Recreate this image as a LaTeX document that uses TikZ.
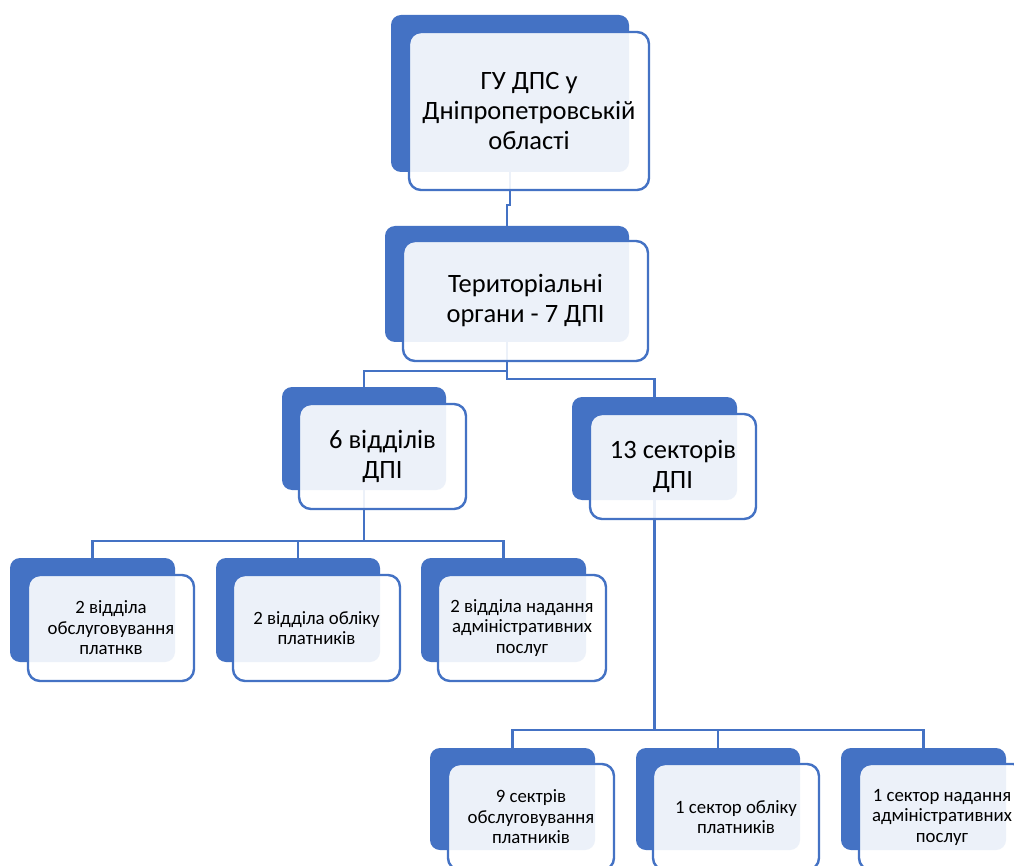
\documentclass[tikz,border=0pt]{standalone}
\usepackage{fontspec}
\setmainfont{Carlito}
\definecolor{accent}{HTML}{4472C4}
\tikzset{
  darkbox/.style={rectangle, rounded corners=10pt, fill=accent, inner sep=0pt},
  frontbox/.style={rectangle, rounded corners=12pt, draw=accent, line width=2.4pt, fill=white, fill opacity=0.9, text opacity=1, inner sep=0pt, align=center, text=black},
  bigtext/.style={font=\fontsize{26.5}{30}\selectfont},
  smalltext/.style={font=\fontsize{18.8}{20.5}\selectfont},
  conn/.style={draw=accent, line width=2.4pt}
}
\begin{document}
\begin{tikzpicture}[x=1pt,y=-1pt]
\useasboundingbox (0,0) rectangle (1014,866);
\fill[white] (0,0) rectangle (1014,866);
\clip (0,0) rectangle (1014,866);
% back (dark) boxes
\node[darkbox, minimum width=238pt, minimum height=157pt] (d1) at (510,93.5) {};
\node[darkbox, minimum width=244pt, minimum height=116pt] (d2) at (507,284) {};
\node[darkbox, minimum width=164pt, minimum height=103pt] (d3) at (364,438.5) {};
\node[darkbox, minimum width=165pt, minimum height=103pt] (d4) at (654.5,448.5) {};
\node[darkbox, minimum width=165pt, minimum height=104pt] (d5) at (92.5,610) {};
\node[darkbox, minimum width=164pt, minimum height=104pt] (d6) at (298,610) {};
\node[darkbox, minimum width=165pt, minimum height=104pt] (d7) at (503.5,610) {};
\node[darkbox, minimum width=165pt, minimum height=102pt] (d8) at (512.5,799) {};
\node[darkbox, minimum width=164pt, minimum height=102pt] (d9) at (718,799) {};
\node[darkbox, minimum width=165pt, minimum height=102pt] (d10) at (923.5,799) {};
% connectors
\draw[conn] (d1.south) -- ++(0,33) -| (d2.north);
\draw[conn] (d2.south) -- ++(0,29) -| (d3.north);
\draw[conn] (d2.south) -- ++(0,37) -| (d4.north);
\draw[conn] (d3.south) -- ++(0,51) coordinate (j3);
\draw[conn] (j3) -| (d5.north);
\draw[conn] (j3) -| (d6.north);
\draw[conn] (j3) -| (d7.north);
\draw[conn] (d4.south) -- ++(0,230) coordinate (j4);
\draw[conn] (j4) -| (d8.north);
\draw[conn] (j4) -| (d9.north);
\draw[conn] (j4) -| (d10.north);
% front boxes with text
\node[frontbox, bigtext, minimum width=240pt, minimum height=158pt] (f1) at (529,111) {ГУ ДПС у\\Дніпропетровській\\області};
\node[frontbox, bigtext, minimum width=245pt, minimum height=120pt] (f2) at (525.5,301) {Територіальні\\органи - 7 ДПІ};
\node[frontbox, bigtext, minimum width=167pt, minimum height=105pt] (f3) at (382.5,456.5) {6 відділів\\ДПІ};
\node[frontbox, bigtext, minimum width=166pt, minimum height=105pt] (f4) at (673,466.5) {13 секторів\\ДПІ};
\node[frontbox, smalltext, minimum width=166pt, minimum height=106pt] (f5) at (111,628) {2 відділа\\обслуговування\\платнкв};
\node[frontbox, smalltext, minimum width=167pt, minimum height=106pt] (f6) at (316.5,628) {2 відділа обліку\\платників};
\node[frontbox, smalltext, minimum width=168pt, minimum height=106pt] (f7) at (522,628) {2 відділа надання\\адміністративних\\послуг};
\node[frontbox, smalltext, minimum width=166pt, minimum height=106pt] (f8) at (531,817) {9 сектрів\\обслуговування\\платників};
\node[frontbox, smalltext, minimum width=166pt, minimum height=106pt] (f9) at (736,817) {1 сектор обліку\\платників};
\node[frontbox, smalltext, minimum width=166pt, minimum height=106pt] (f10) at (942,817) {1 сектор надання\\адміністративних\\послуг};
\end{tikzpicture}
\end{document}
